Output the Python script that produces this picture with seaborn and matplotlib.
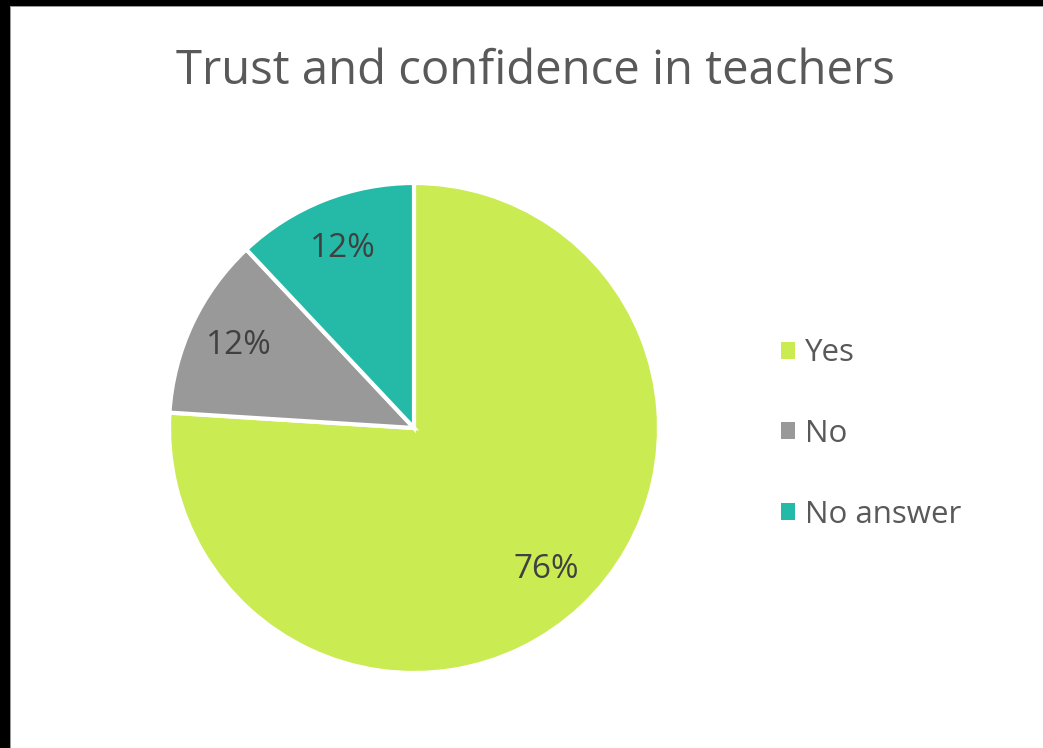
import matplotlib
matplotlib.use("Agg")
import matplotlib.pyplot as plt
import seaborn as sns
from matplotlib.patches import Rectangle

categories = ["Yes", "No", "No answer"]
values = [76, 12, 12]
colors = ["#CBEB52", "#999999", "#25BAA8"]
title = "Trust and confidence in teachers"

sns.set_theme(style="white")
plt.rcParams["font.family"] = ["Open Sans", "DejaVu Sans"]

W, H = 1043, 748
fig = plt.figure(figsize=(W / 100, H / 100), dpi=100)
fig.patch.set_facecolor("white")

ax = fig.add_axes([169 / W, (H - 673) / H, 490 / W, 490 / H])
wedges, texts, autotexts = ax.pie(
    values,
    colors=colors,
    startangle=90,
    counterclock=False,
    autopct=lambda p: f"{p:.0f}%",
    pctdistance=0.79,
    wedgeprops=dict(edgecolor="white", linewidth=3, clip_on=False),
    textprops=dict(color="#404040", fontsize=24),
)
ax.set_xlim(-1.0, 1.0)
ax.set_ylim(-1.0, 1.0)
ax.set_aspect("equal")
ax.axis("off")

fig.text(535 / W, 1 - 71 / H, title, ha="center", va="center",
         fontsize=34, color="#595959")

leg = fig.legend(
    wedges, categories,
    loc="center left",
    bbox_to_anchor=(753 / W, 1 - 434 / H),
    frameon=False,
    fontsize=22.5,
    handlelength=0.45,
    handleheight=0.45,
    handletextpad=0.3,
    labelspacing=1.62,
    labelcolor="#595959",
)
for h in leg.legend_handles:
    h.set_edgecolor("none")

# black frame at top and left, as in the screenshot
fig.patches.append(Rectangle((0, 1 - 6 / H), 1, 6 / H, transform=fig.transFigure,
                             facecolor="black", edgecolor="none", zorder=10))
fig.patches.append(Rectangle((0, 1 - 7 / H), 1, 1 / H, transform=fig.transFigure,
                             facecolor="#9a9a9a", edgecolor="none", zorder=10))
fig.patches.append(Rectangle((0, 0), 10 / W, 1, transform=fig.transFigure,
                             facecolor="black", edgecolor="none", zorder=10))
fig.patches.append(Rectangle((10 / W, 0), 1 / W, 1 - 6 / H, transform=fig.transFigure,
                             facecolor="#9a9a9a", edgecolor="none", zorder=10))

fig.savefig("out.png", dpi=100, facecolor="white")
